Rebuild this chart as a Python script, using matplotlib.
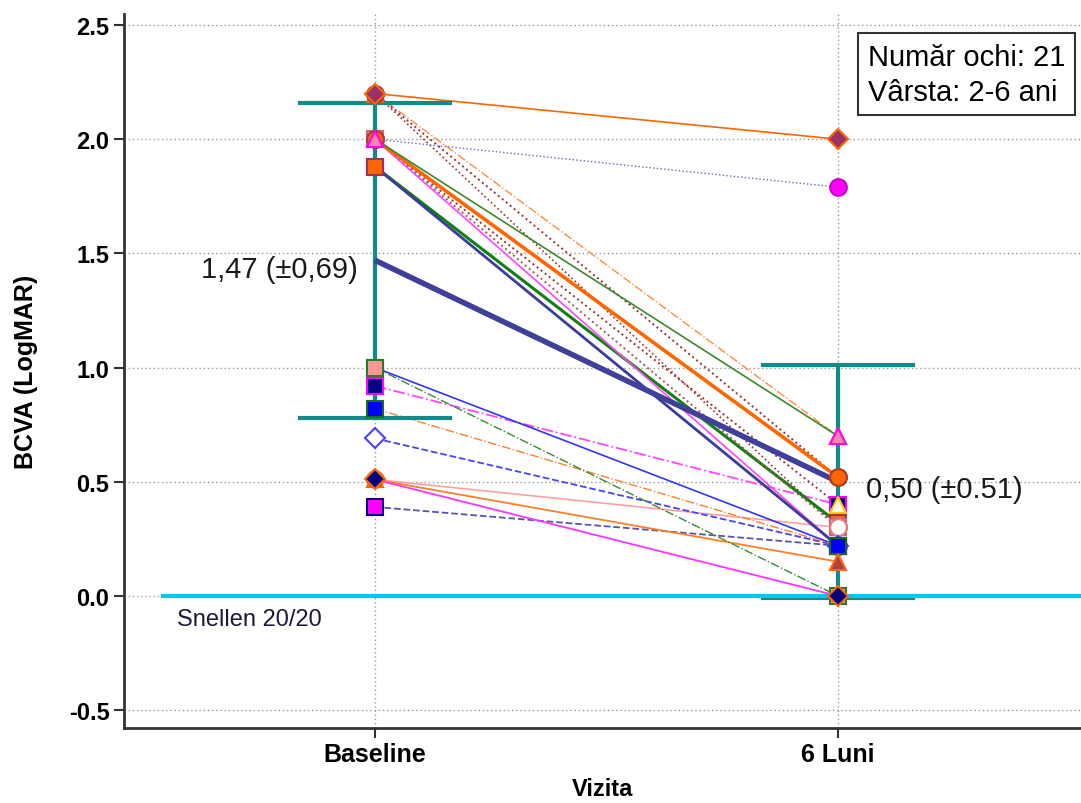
import matplotlib
matplotlib.use("Agg")
import matplotlib.pyplot as plt

plt.rcParams['font.family'] = ['Liberation Sans', 'DejaVu Sans']

visits = ["Baseline", "6 Luni"]

# per-eye BCVA values (LogMAR), drawing order = bottom to top
baseline = [2.2, 2.2, 2.2, 0.92, 2.0, 2.0, 1.88, 2.0, 0.51, 2.0, 2.0, 2.0, 1.88, 1.0,
            0.69, 0.39, 0.82, 0.51, 1.0, 0.51, 2.2]
luni6 = [0.30, 0.70, 0.52, 0.40, 0.40, 1.79, 0.32, 0.30, 0.30, 0.22, 0.52, 0.70, 0.22, 0.22,
         0.22, 0.22, 0.22, 0.15, 0.00, 0.00, 2.00]

line_colors = ['#993333', '#ff8c3c', '#993333', '#ff44ff', '#993333', '#6666bb', '#108010',
               '#aa5555', '#ffa0a0', '#ff44ff', '#ff6600', '#3a8a2a', '#3c3c9c', '#3333ff',
               '#4444ff', '#5555aa', '#ff7f27', '#ff7f27', '#3a8a3a', '#ff33ff', '#ff6600']
line_styles = [':', '-.', ':', '-.', ':', ':', '-', ':', '-', '-', '-', '-', '-', '-',
               '--', '--', '-.', '-', '-.', '-', '-']
line_widths = [1.2, 1.0, 1.4, 1.3, 1.4, 1.0, 2.2, 1.4, 1.2, 1.2, 2.6, 1.2, 2.0, 1.2,
               1.3, 1.3, 1.0, 1.3, 1.0, 1.3, 1.2]
markers = ['o', '^', 'o', 's', '^', 'o', 's', 's', 'o', 'o', 'o', '^', 's', 's',
           'D', 's', 's', '^', 's', 'D', 'D']
marker_face = ['#993333', '#ffcc00', '#ff6600', '#000080', '#fffff0', '#ff00ff', '#ff6600',
               '#ffb0b0', '#ffffff', '#ff00ff', '#ff6600', '#ff88aa', '#ff6600', '#ff9999',
               '#ffffff', '#ff00ff', '#0000ff', '#b04040', '#ff9999', '#000080', '#993366']
marker_edge = ['#993366', '#ff6600', '#993366', '#ff00ff', '#ffcc00', '#cc00cc', '#993366',
               '#cc6677', '#e08080', '#cc00cc', '#b04020', '#ff00ff', '#993366', '#2a7a2a',
               '#4444ff', '#000080', '#1a6a1a', '#ff6600', '#2a7a2a', '#ff6600', '#ff6600']

mean_vals = [1.47, 0.50]
sd_vals = [0.69, 0.51]
mean_labels = ["1,47 (±0,69)", "0,50 (±0.51)"]

yticks = [-0.5, 0.0, 0.5, 1.0, 1.5, 2.0, 2.5]

fig = plt.figure(figsize=(10.81, 8.04), dpi=100)
ax = fig.add_axes([0.1147, 0.0933, 0.8853, 0.888])

xs = [1, 2]
for i in range(len(baseline)):
    ax.plot(xs, [baseline[i], luni6[i]], color=line_colors[i], ls=line_styles[i],
            lw=line_widths[i], zorder=2)

# mean line
ax.plot(xs, mean_vals, color='#40409a', lw=4, zorder=2.6, solid_capstyle='butt')

# SD error bars
teal = '#138a8a'
cap = 0.162
for x, m, s in zip(xs, mean_vals, sd_vals):
    ax.plot([x, x], [m - s, m + s], color=teal, lw=3, zorder=2.5)
    ax.plot([x - cap, x + cap], [m + s, m + s], color=teal, lw=3, zorder=2.5)
    ax.plot([x - cap, x + cap], [m - s, m - s], color=teal, lw=3, zorder=2.5)

# markers on top
for i in range(len(baseline)):
    ax.plot(xs, [baseline[i], luni6[i]], ls='none', marker=markers[i],
            ms=12 if markers[i] != 'D' else 10, mfc=marker_face[i], mec=marker_edge[i],
            mew=1.5, zorder=3)

# Snellen 20/20 reference
ax.plot([0.542, 2.6], [0, 0], color='#00c8f0', lw=3, zorder=2.7)
ax.text(0.573, -0.1, "Snellen 20/20", fontsize=17, color='#1a1a3a', va='center', ha='left')

ax.text(0.962, mean_vals[0] - 0.04, mean_labels[0], fontsize=21, color='#1a1a1a',
        ha='right', va='center')
ax.text(2.06, mean_vals[1] - 0.03, mean_labels[1], fontsize=21, color='#1a1a1a',
        ha='left', va='center')

ax.text(0.777, 0.96, "Număr ochi: 21\nVârsta: 2-6 ani", transform=ax.transAxes,
        fontsize=21, ha='left', va='top', linespacing=1.32, zorder=5,
        bbox=dict(boxstyle='square,pad=0.33', fc='white', ec='#333333', lw=1.5))

ax.set_xlim(0.458, 2.525)
ax.set_ylim(-0.578, 2.548)
ax.set_xticks(xs)
ax.set_xticklabels(visits, fontsize=18, fontweight='bold')
ax.set_yticks(yticks)
ax.set_yticklabels([f"{v:.1f}" for v in yticks], fontsize=17, fontweight='bold')
ax.tick_params(axis='both', direction='out', length=7, width=1.5, color='#333333')
ax.tick_params(axis='x', pad=3)
ax.set_xlabel("Vizita", fontsize=17, fontweight='bold', labelpad=8)
ax.set_ylabel("BCVA (LogMAR)", fontsize=18, fontweight='bold', labelpad=22)

ax.grid(True, color='#999999', ls=(0, (1, 2)), lw=1)
ax.set_axisbelow(True)
for side in ['top', 'right']:
    ax.spines[side].set_visible(False)
for side in ['left', 'bottom']:
    ax.spines[side].set_linewidth(2)
    ax.spines[side].set_color('#333333')

fig.savefig("out.png", dpi=100)
